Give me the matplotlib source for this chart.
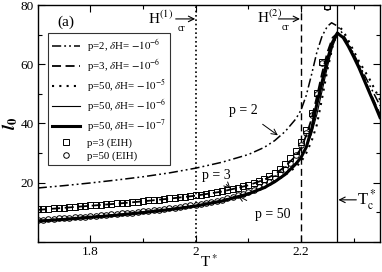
import matplotlib
matplotlib.use("Agg")
import matplotlib.pyplot as plt
from matplotlib.ticker import FixedLocator, FuncFormatter

plt.rcParams['font.family'] = ['Liberation Serif', 'DejaVu Serif']
plt.rcParams['mathtext.fontset'] = 'stix'

# p=3 and p=50 EIH points (every 0.01 from 1.70 to 2.25)
t_eih = [1.70 + 0.01 * i for i in range(56)]
l_eih_p3 = [11.0, 11.1, 11.2, 11.4, 11.5, 11.6, 11.7, 11.9, 12.0, 12.1,
            12.3, 12.4, 12.6, 12.7, 12.9, 13.0, 13.2, 13.3, 13.5, 13.6,
            13.8, 14.0, 14.2, 14.3, 14.5, 14.7, 14.9, 15.1, 15.3, 15.5,
            15.7, 16.0, 16.2, 16.5, 16.8, 17.1, 17.5, 17.9, 18.3, 18.8,
            19.3, 19.9, 20.6, 21.4, 22.3, 23.4, 24.7, 26.3, 28.2, 30.7,
            33.8, 37.9, 43.4, 50.2, 60.9, 79.5]
l_eih_p50 = [7.4, 7.5, 7.6, 7.8, 7.9, 8.0, 8.1, 8.3, 8.4, 8.5,
             8.7, 8.8, 9.0, 9.1, 9.3, 9.4, 9.6, 9.8, 9.9, 10.1,
             10.3, 10.5, 10.7, 10.9, 11.1, 11.3, 11.5, 11.8, 12.0, 12.3,
             12.6, 12.9, 13.2, 13.5, 13.9, 14.3, 14.7, 15.2, 15.7, 16.3,
             16.9, 17.6, 18.4, 19.3, 20.3, 21.5, 23.0, 24.7, 26.8, 29.4,
             32.6, 36.9, 42.7, 50.0, 60.5, 79.3]

# p=2, dH=-1e-6 (dash-dot)
t_p2 = [1.70, 1.75, 1.80, 1.85, 1.90, 1.95, 2.00, 2.05, 2.10, 2.13, 2.15, 2.17,
        2.19, 2.20, 2.21, 2.22, 2.23, 2.24, 2.25, 2.258, 2.27, 2.28, 2.29, 2.30,
        2.31, 2.32, 2.33, 2.34, 2.35]
l_p2 = [18.2, 19.0, 19.9, 20.9, 22.0, 23.3, 24.9, 26.9, 29.5, 31.9, 34.2, 37.3,
        41.5, 44.5, 49.5, 56.5, 64.0, 69.5, 72.8, 74.0, 72.8, 70.0, 67.0, 63.5,
        60.0, 56.5, 53.0, 49.5, 46.0]

# p=3, dH=-1e-6 (dashed)
t_p3 = [1.70, 1.75, 1.80, 1.85, 1.90, 1.95, 2.00, 2.05, 2.10, 2.13, 2.15, 2.17,
        2.19, 2.20, 2.21, 2.22, 2.23, 2.24, 2.25, 2.26, 2.27, 2.28, 2.29, 2.30,
        2.31, 2.32, 2.33, 2.34, 2.35]
l_p3 = [10.8, 11.5, 12.2, 12.9, 13.7, 14.6, 15.6, 17.0, 19.1, 21.0, 22.8, 25.5,
        29.0, 31.5, 36.0, 41.5, 49.0, 57.0, 64.0, 69.0, 70.6, 69.0, 66.3, 63.0,
        59.4, 55.3, 51.0, 47.0, 43.0]

# p=50, dH=-1e-5 (dotted)
t_p50a = [1.70, 1.75, 1.80, 1.85, 1.90, 1.95, 2.00, 2.05, 2.10, 2.13, 2.15, 2.17,
          2.19, 2.20, 2.21, 2.22, 2.23, 2.24, 2.25, 2.26, 2.27, 2.275, 2.28, 2.29,
          2.30, 2.31, 2.32, 2.33, 2.34, 2.35]
l_p50a = [7.2, 7.8, 8.5, 9.2, 10.1, 11.1, 12.3, 14.0, 16.4, 18.4, 20.3, 22.6,
          25.3, 27.0, 30.0, 34.0, 39.5, 48.5, 58.0, 66.0, 71.5, 72.2, 71.3, 68.0,
          64.5, 61.0, 58.0, 55.0, 51.5, 48.0]

# p=50, dH=-1e-6 (thin solid)
t_p50b = [1.70, 1.75, 1.80, 1.85, 1.90, 1.95, 2.00, 2.05, 2.10, 2.13, 2.15, 2.17,
          2.19, 2.20, 2.21, 2.22, 2.23, 2.24, 2.25, 2.26, 2.27, 2.28, 2.29, 2.30,
          2.31, 2.32, 2.33, 2.34, 2.35]
l_p50b = [7.2, 7.8, 8.5, 9.2, 10.1, 11.1, 12.3, 14.0, 16.4, 18.5, 20.5, 23.0,
          26.5, 28.7, 32.0, 36.5, 43.0, 51.0, 59.0, 66.0, 70.5, 69.0, 66.3, 63.0,
          59.3, 55.1, 50.9, 46.8, 42.6]

# p=50, dH=-1e-7 (thick solid)
t_p50c = [1.70, 1.75, 1.80, 1.85, 1.90, 1.95, 2.00, 2.05, 2.10, 2.13, 2.15, 2.17,
          2.19, 2.20, 2.21, 2.22, 2.23, 2.24, 2.25, 2.26, 2.269, 2.28, 2.29, 2.30,
          2.31, 2.32, 2.33, 2.34, 2.35]
l_p50c = [7.0, 7.6, 8.3, 9.0, 9.9, 10.9, 12.1, 13.8, 16.2, 18.3, 20.3, 22.8,
          26.3, 28.5, 32.0, 38.0, 46.5, 54.0, 61.5, 67.5, 70.5, 69.0, 66.0, 62.5,
          58.8, 54.6, 50.4, 46.3, 42.0]

t_h1, t_h2, t_c = 2.0, 2.2, 2.269

fig = plt.figure(figsize=(3.82, 2.72), dpi=100)
ax = fig.add_axes([0.0987, 0.1107, 0.8961, 0.8709])

ax.axvline(t_h1, color='black', lw=1.2, ls=(0, (1, 1.6)))
ax.axvline(t_h2, color='black', lw=1.0, ls=(0, (5, 3)))
ax.axvline(t_c, color='black', lw=0.9)

ax.plot(t_p2, l_p2, color='black', lw=1.1, ls=(0, (6, 2, 1.2, 2, 1.2, 2)),
        label=r'p=2, $\delta$H= $-10^{-6}$')
ax.plot(t_p3, l_p3, color='black', lw=1.3, ls=(0, (5, 2.5)),
        label=r'p=3, $\delta$H= $-10^{-6}$')
ax.plot(t_p50a, l_p50a, color='black', lw=1.5, ls=(0, (1, 2.5)),
        label=r'p=50, $\delta$H= $-10^{-5}$')
ax.plot(t_p50b, l_p50b, color='black', lw=0.8,
        label=r'p=50, $\delta$H= $-10^{-6}$')
ax.plot(t_p50c, l_p50c, color='black', lw=2.2,
        label=r'p=50, $\delta$H= $-10^{-7}$')
ax.plot(t_eih, l_eih_p3, ls='none', marker='s', ms=3.8, mfc='none',
        mec='black', mew=0.7, label='p=3 (EIH)')
ax.plot(t_eih, l_eih_p50, ls='none', marker='o', ms=4.0, mfc='none',
        mec='black', mew=0.7, label='p=50 (EIH)')

ax.set_xlim(1.70, 2.35)
ax.set_ylim(0, 80)
ax.xaxis.set_major_locator(FixedLocator([1.8, 2.0, 2.2]))
ax.xaxis.set_minor_locator(FixedLocator([1.7, 1.9, 2.1, 2.3]))
ax.yaxis.set_major_locator(FixedLocator([0, 20, 40, 60, 80]))
ax.yaxis.set_minor_locator(FixedLocator([10, 30, 50, 70]))
ax.xaxis.set_major_formatter(FuncFormatter(lambda v, p: '%g' % v))
ax.yaxis.set_major_formatter(FuncFormatter(lambda v, p: '' if v == 0 else '%g' % v))
ax.tick_params(which='both', direction='in', top=True, right=True,
               labelsize=9.5, width=0.8)
ax.tick_params(which='major', length=5, pad=3)
ax.tick_params(which='minor', length=3)
for s in ax.spines.values():
    s.set_linewidth(1.0)

ax.set_xlabel(r'T$^*$', fontsize=11, labelpad=-3)
ax.set_ylabel(r'$\boldsymbol{l}_{\mathbf{0}}$', fontsize=13, labelpad=0)

leg = ax.legend(loc='upper left', bbox_to_anchor=(0.03, 0.882), fontsize=7.8,
                frameon=True, fancybox=False, edgecolor='black',
                handlelength=2.6, handletextpad=0.6, labelspacing=0.3,
                borderpad=0.4, borderaxespad=0)
leg.get_frame().set_linewidth(0.8)

ax.text(1.754, 74.3, '(a)', fontsize=11, ha='center', va='center')

# critical field markers
ax.text(1.909, 73.6, r'H$^{(1)}$', fontsize=11, ha='left', va='baseline')
ax.text(1.965, 72.0, 'cr', fontsize=7, ha='left', va='center')
ax.annotate('', xy=(1.999, 75.3), xytext=(1.962, 75.3),
            arrowprops=dict(arrowstyle='->', lw=0.8, color='black',
                            shrinkA=0, shrinkB=0))
ax.text(2.117, 73.9, r'H$^{(2)}$', fontsize=11, ha='left', va='baseline')
ax.text(2.163, 72.4, 'cr', fontsize=7, ha='left', va='center')
ax.annotate('', xy=(2.198, 75.3), xytext=(2.157, 75.3),
            arrowprops=dict(arrowstyle='->', lw=0.8, color='black',
                            shrinkA=0, shrinkB=0))

# curve labels
ax.annotate('p = 2', xy=(2.156, 36.0), xytext=(2.090, 44.5), fontsize=10,
            ha='center', va='center',
            arrowprops=dict(arrowstyle='->', lw=0.7, color='black',
                            shrinkA=6, shrinkB=0))
ax.annotate('p = 3', xy=(2.066, 18.0), xytext=(2.040, 22.5), fontsize=10,
            ha='center', va='center',
            arrowprops=dict(arrowstyle='->', lw=0.7, color='black',
                            shrinkA=5, shrinkB=0))
ax.annotate('p = 50', xy=(2.080, 15.6), xytext=(2.146, 9.3), fontsize=10,
            ha='center', va='center',
            arrowprops=dict(arrowstyle='->', lw=0.7, color='black',
                            shrinkA=7, shrinkB=0))
ax.annotate('', xy=(2.271, 14.2), xytext=(2.305, 14.2),
            arrowprops=dict(arrowstyle='->', lw=0.8, color='black',
                            shrinkA=0, shrinkB=0))
ax.text(2.306, 14.2, r'T$^*_{\rm c}$', fontsize=12, ha='left', va='center')

fig.savefig('out.png', dpi=100)
